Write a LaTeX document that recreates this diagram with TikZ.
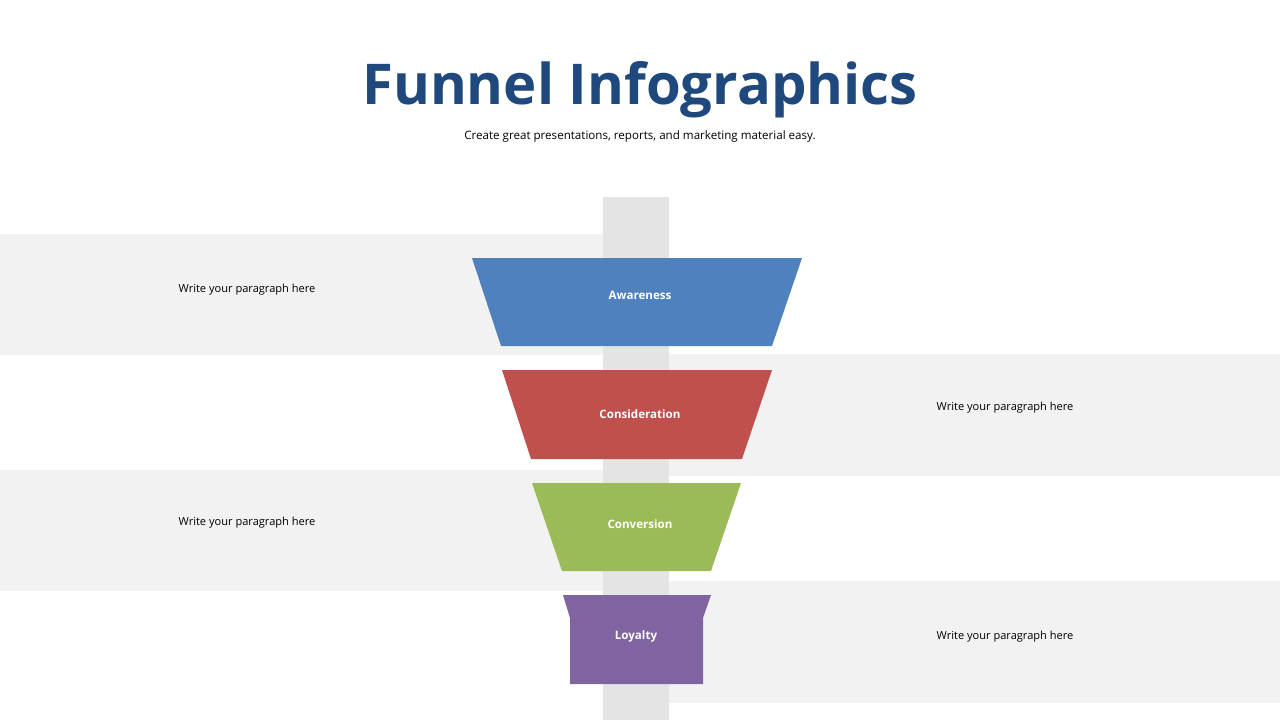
\documentclass[tikz,border=0pt]{standalone}
\usepackage{fontspec}
\setmainfont{Open Sans}
\usetikzlibrary{positioning}
\definecolor{titleblue}{HTML}{1F497D}
\definecolor{band}{HTML}{F2F2F2}
\definecolor{stem}{HTML}{E4E4E4}
\definecolor{sblue}{HTML}{4F81BD}
\definecolor{sred}{HTML}{C0504D}
\definecolor{sgreen}{HTML}{9BBB59}
\definecolor{spurple}{HTML}{8064A2}
\tikzset{
	band/.style={fill=band, draw=none},
	para/.style={font=\fontsize{6.3}{7}\selectfont, text=black},
	stage/.style={font=\bfseries\fontsize{6.6}{8}\selectfont, text=white},
}
\begin{document}
\begin{tikzpicture}[x=0.02cm, y=-0.02cm]
		\useasboundingbox (0,0) rectangle (1280,720);
		
		% background bands and stem
		\fill[band] (0,234) rectangle (603,355);
		\fill[band] (669,354) rectangle (1280,476);
		\fill[band] (0,470) rectangle (603,591);
		\fill[band] (669,581) rectangle (1280,703);
		\fill[stem] (603,197) rectangle (669,720);
		
		% funnel stages
		\fill[sblue] (472,258) -- (802,258) -- (772,346) -- (501,346) -- cycle;
		\fill[sred] (502,370) -- (772,370) -- (742,459) -- (531,459) -- cycle;
		\fill[sgreen] (532,483) -- (741,483) -- (711,571) -- (562,571) -- cycle;
		\fill[spurple] (563,595) -- (711,595) -- (703,618) -- (703,684) -- (570,684) -- (570,618) -- cycle;
		
		\node (title) [font=\bfseries\fontsize{32}{36}\selectfont, text=titleblue] at (640,90) {Funnel Infographics};
		\node (sub) [below=0pt of title, font=\fontsize{6.6}{8}\selectfont] {Create great presentations, reports, and marketing material easy.};
		
		\node (awareness) [stage] at (640,295) {Awareness};
		\node (consideration) [stage] at (640,414) {Consideration};
		\node (conversion) [stage] at (640,524) {Conversion};
		\node (loyalty) [stage] at (636,636) {Loyalty};
		
		\node (p1) [para] at (247,290) {Write your paragraph here};
		\node (p2) [para] at (1005,408) {Write your paragraph here};
		\node (p3) [para] at (247,523) {Write your paragraph here};
		\node (p4) [para] at (1005,637) {Write your paragraph here};
	\end{tikzpicture}
\end{document}
